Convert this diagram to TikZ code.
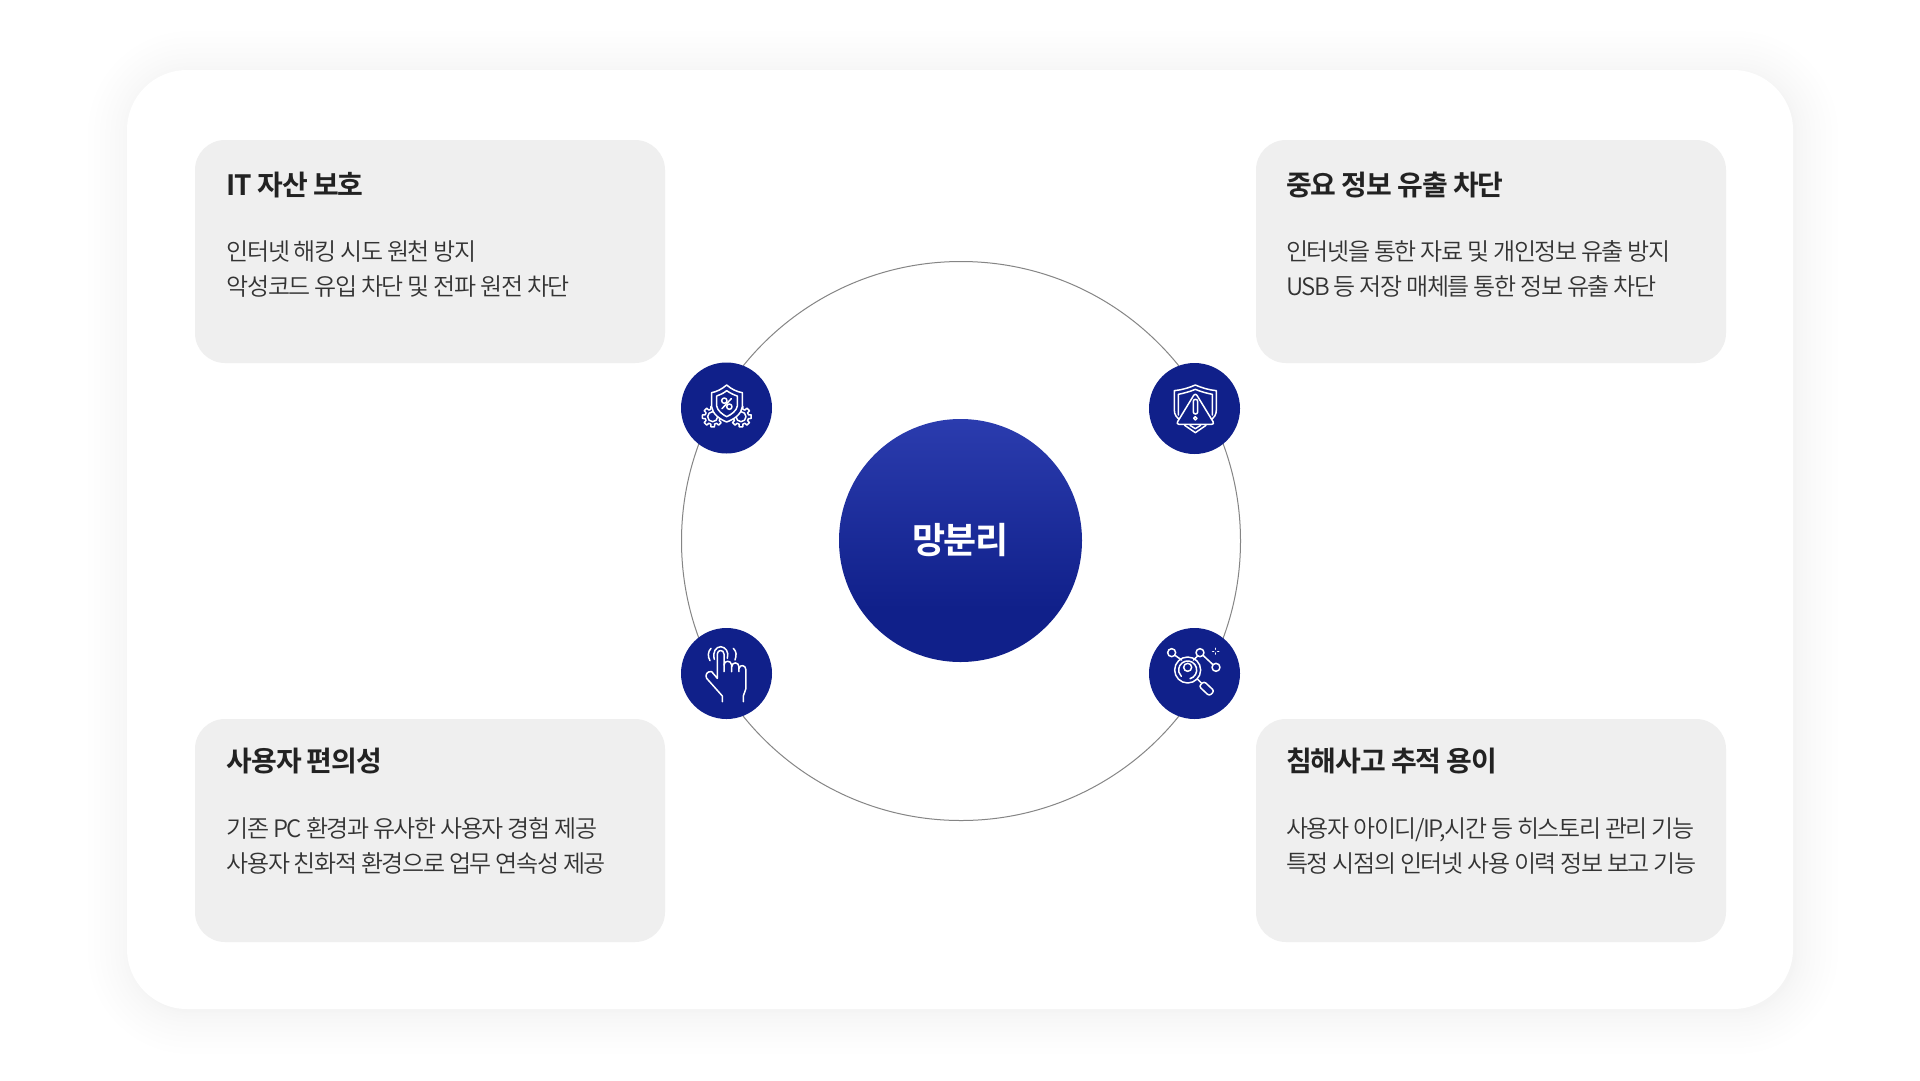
\documentclass[tikz,border=0pt]{standalone}
\usepackage{fontspec}
\setmainfont{Noto Sans CJK KR}[LetterSpace=-3,BoldFont={Noto Sans CJK KR Bold}]
\newfontfamily\krbody{Noto Sans CJK KR DemiLight}[LetterSpace=-6]
\newfontfamily\krtitle{Noto Sans CJK KR Bold}[LetterSpace=-4]
\definecolor{navy}{HTML}{10208A}
\definecolor{navytop}{HTML}{2B3CAE}
\definecolor{boxgray}{HTML}{EFEFEF}
\definecolor{ink}{HTML}{222222}
\definecolor{bodyink}{HTML}{333333}
\pgfdeclareverticalshading{hubshade}{100bp}{color(0bp)=(navy); color(25bp)=(navy); color(36bp)=(navy); color(75bp)=(navytop); color(100bp)=(navytop)}
\tikzset{
  x=1pt,y=-1pt,
  panel/.style={fill=boxgray,rounded corners=30pt,draw=none},
  titletext/.style={anchor=base west,inner sep=0pt,text=ink,font=\krtitle\fontsize{28}{34}\selectfont},
  bodytext/.style={anchor=base west,inner sep=0pt,text=bodyink,font=\krbody\fontsize{24}{30}\selectfont},
  badge/.style={circle,fill=navy,draw=none,minimum size=91pt,inner sep=0pt},
  ic/.style={draw=white,line width=1.5pt,line join=round,line cap=round},
  iconscope/.style={x=0.3333pt,y=-0.3333pt}
}
\newcommand{\gearshape}[2]{%
  \draw[ic] ({#1+31*cos(-10)},{#2+31*sin(-10)})
    \foreach \a in {0,45,...,315}{
      -- ({#1+31*cos(\a-10)},{#2+31*sin(\a-10)})
      -- ({#1+31*cos(\a+10)},{#2+31*sin(\a+10)})
      -- ({#1+23*cos(\a+14.5)},{#2+23*sin(\a+14.5)})
      -- ({#1+23*cos(\a+30.5)},{#2+23*sin(\a+30.5)})
    } -- cycle;
  \draw[ic] (#1,#2) circle (15);
}
\begin{document}
\begin{tikzpicture}
\useasboundingbox (0,0) rectangle (1920,1080);
\fill[white] (0,0) rectangle (1920,1080);
% soft shadow
\foreach \i in {10,9,...,0}{
  \pgfmathsetmacro{\g}{42*pow(\i/10,1.5)}
  \fill[black,opacity=0.004,rounded corners={(60+\g)*1pt}] ({127+3-\g},{70+3-\g}) rectangle ({1793+3+\g},{1009+3+\g});
}
\node[fill=white,draw=none,rounded corners=60pt,minimum width=1666pt,minimum height=939pt,inner sep=0pt] (card) at (960,539.5) {};

% panels
\fill[panel] (195,140) rectangle (665,363);
\fill[panel] (1256,140) rectangle (1726,363);
\fill[panel] (195,719) rectangle (665,942);
\fill[panel] (1256,719) rectangle (1726,942);

% ring + hub
\node[circle,draw=black!48,line width=1pt,minimum size=559pt,inner sep=0pt] (ring) at (961,541) {};
\node[circle,minimum size=243pt,inner sep=0pt,draw=none,shade,shading=hubshade,text=white,font=\krtitle\fontsize{36}{42}\selectfont] (hub) at (960.5,540.5) {망분리};

% badges
\node[badge] (b1) at (726.5,408) {};
\node[badge] (b2) at (1194.5,408.5) {};
\node[badge] (b3) at (726.5,673.5) {};
\node[badge] (b4) at (1194.5,673.5) {};

% texts
\node[titletext] (t1) at (226.5,195) {IT 자산 보호};
\node[bodytext] (l11) at (226.5,260) {인터넷 해킹 시도 원천 방지};
\node[bodytext] (l12) at (226.5,295) {악성코드 유입 차단 및 전파 원전 차단};
\node[titletext] (t2) at (1286,195) {중요 정보 유출 차단};
\node[bodytext] (l21) at (1286,260) {인터넷을 통한 자료 및 개인정보 유출 방지};
\node[bodytext] (l22) at (1286,295) {USB 등 저장 매체를 통한 정보 유출 차단};
\node[titletext] (t3) at (226.5,771) {사용자 편의성};
\node[bodytext] (l31) at (226.5,837) {기존 PC 환경과 유사한 사용자 경험 제공};
\node[bodytext] (l32) at (226.5,872) {사용자 친화적 환경으로 업무 연속성 제공};
\node[titletext] (t4) at (1286,771) {침해사고 추적 용이};
\node[bodytext] (l41) at (1286,837) {사용자 아이디/IP,시간 등 히스토리 관리 기능};
\node[bodytext] (l42) at (1286,872) {특정 시점의 인터넷 사용 이력 정보 보고 기능};

% icon 1: shield + gears
\begin{scope}[shift={(660,340)},iconscope]
  \gearshape{158}{230}
  \gearshape{243}{230}
  \draw[ic,fill=navy] (200,135) .. controls (185,148) and (170,155) .. (155,158) -- (155,200) .. controls (157,222) and (180,238) .. (200,246) .. controls (222,238) and (245,222) .. (247,200) -- (247,158) .. controls (230,155) and (215,148) .. (200,135) -- cycle;
  \draw[ic] (200,152) .. controls (190,160) and (180,165) .. (170,168) -- (170,198) .. controls (172,212) and (188,224) .. (200,230) .. controls (214,224) and (230,212) .. (232,198) -- (232,168) .. controls (222,165) and (212,160) .. (200,152) -- cycle;
  \draw[ic] (186,206) -- (214,176);
  \draw[ic] (193,182) circle (8);
  \draw[ic] (208,200) circle (8);
\end{scope}

% icon 2: shield + warning
\begin{scope}[shift={(1130,340)},iconscope]
  \draw[ic] (164,256) -- (196,278) -- (228,256) (150,240) .. controls (140,232) and (133,225) .. (133,210) -- (133,152) .. controls (155,150) and (178,143) .. (196,135) .. controls (214,143) and (237,150) .. (259,152) -- (259,210) .. controls (259,225) and (252,232) .. (244,240);
  \draw[ic] (145,225) -- (145,163) .. controls (160,160) and (180,155) .. (196,148) .. controls (212,155) and (232,160) .. (247,163) -- (247,225);
  \draw[ic] (180,256) -- (196,266) -- (212,256);
  \draw[ic,fill=navy,rounded corners=3pt] (196,158) -- (254,253) -- (138,253) -- cycle;
  \draw[ic,rounded corners=2pt] (190,178) rectangle (203,222);
  \draw[ic] (196,235) circle (5);
\end{scope}

% icon 3: hand
\begin{scope}[shift={(660,610)},iconscope]
  \draw[ic] (187,275) -- (187,258) -- (140,205) .. controls (134,195) and (142,182) .. (155,185) -- (172,205) -- (172,132) .. controls (172,118) and (192,118) .. (192,132) -- (192,185);
  \draw[ic] (192,165) .. controls (193,150) and (213,150) .. (215,165) -- (215,185);
  \draw[ic] (215,170) .. controls (216,155) and (236,155) .. (237,170) -- (237,185);
  \draw[ic] (237,175) .. controls (240,162) and (258,165) .. (258,180) -- (258,235) -- (250,258) -- (250,275);
  \draw[ic] (163,148) .. controls (157,125) and (168,111) .. (182,110) .. controls (196,111) and (208,125) .. (202,145);
  \draw[ic] (153,115) .. controls (143,125) and (143,140) .. (150,152);
  \draw[ic] (220,115) .. controls (230,125) and (230,135) .. (225,150);
\end{scope}

% icon 4: network + magnifier
\begin{scope}[shift={(1130,610)},iconscope]
  \draw[ic] (125,128) circle (12);
  \draw[ic] (210,128) circle (12);
  \draw[ic] (258,172) circle (12);
  \draw[ic] (135,136) -- (155,150);
  \draw[ic] (203,138) -- (190,150);
  \draw[ic] (219,136) -- (249,164);
  \draw[ic] (173,180) circle (39);
  \draw[ic] (180,206) arc[start angle=75,end angle=-225,radius=27];
  \draw[ic] (173,172) circle (12);
  \draw[ic] (203,208) -- (214,219);
  \draw[ic,rounded corners=2.5pt] (207,229) -- (222,214) -- (253,243) -- (238,258) -- cycle;
  \draw[ic] (257,115) -- (257,118) (257,129) -- (257,132) (248,124) -- (251,124) (263,124) -- (266,124);
\end{scope}
\end{tikzpicture}
\end{document}
